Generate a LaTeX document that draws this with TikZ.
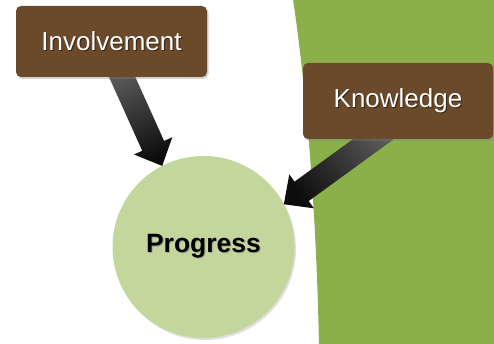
\documentclass[tikz,border=0pt]{standalone}
\usepackage{fontspec}
\setmainfont{Liberation Sans}
\usetikzlibrary{calc,shadows}
\definecolor{bggreen}{HTML}{8BB04A}
\definecolor{circgreen}{HTML}{C3D69B}
\definecolor{boxbrown}{HTML}{6B4A2B}
\pgfdeclarelayer{bglayer}
\pgfdeclarelayer{circlayer}
\pgfdeclarelayer{arrowlayer}
\pgfsetlayers{bglayer,circlayer,arrowlayer,main}
\newcommand{\shtxt}[2]{\makebox[0pt][l]{\hspace*{1pt}\raisebox{-1.2pt}{\textcolor{#1}{#2}}}#2}
\tikzset{
  box/.style={fill=boxbrown, rounded corners=5pt, inner sep=0pt, outer sep=0pt,
    text=white, font=\fontsize{26}{30}\selectfont,
    drop shadow={opacity=0.35, shadow xshift=1.5pt, shadow yshift=-2pt}},
  circ/.style={circle, fill=circgreen, minimum size=182pt, inner sep=0pt, outer sep=0pt,
    font=\bfseries\fontsize{26.5}{30}\selectfont,
    drop shadow={opacity=0.25, shadow xshift=1.5pt, shadow yshift=-2pt}},
  bigarrow/.style={top color=black!65, bottom color=black!95}
}
\begin{document}
\begin{tikzpicture}[x=1pt,y=-1pt]
\useasboundingbox (0,0) rectangle (494,344);
% green background
\begin{pgfonlayer}{bglayer}
\fill[bggreen] (293,-1) .. controls (305,80) and (316,200) .. (319,345) -- (495,345) -- (495,-1) -- cycle;
\end{pgfonlayer}
% nodes
\begin{pgfonlayer}{circlayer}
\node[circ] (prog) at (203.5,247) {\shtxt{circgreen!50!black!60}{Progress}};
\end{pgfonlayer}
\node[box, minimum width=191pt, minimum height=71pt] (inv) at (111.5,41.5) {\shtxt{boxbrown!50!black}{Involvement}};
\node[box, minimum width=190pt, minimum height=76pt] (knw) at (398,101) {\shtxt{boxbrown!50!black}{Knowledge}};
% arrow anchors
\coordinate (s1) at ($(inv.south)+(7.5,-7)$);
\coordinate (t1) at (prog.117);
\coordinate (s2) at ($(knw.south)+(-12,-9)$);
\coordinate (t2) at (prog.28);
% arrows (beneath boxes, above circle)
\begin{pgfonlayer}{arrowlayer}
\foreach \s/\t/\ang in {s1/t1/24, s2/t2/-54}{
  \coordinate (h) at ($(\t)!22pt!(\s)$);
  \path[bigarrow, shading angle=\ang]
    ($(\s)!12pt!90:(\t)$) -- ($(h)!12pt!90:(\t)$) -- ($(h)!21pt!90:(\t)$) -- (\t)
    -- ($(h)!21pt!-90:(\t)$) -- ($(h)!12pt!-90:(\t)$) -- ($(\s)!12pt!-90:(\t)$) -- cycle;
}
\end{pgfonlayer}
\end{tikzpicture}
\end{document}
